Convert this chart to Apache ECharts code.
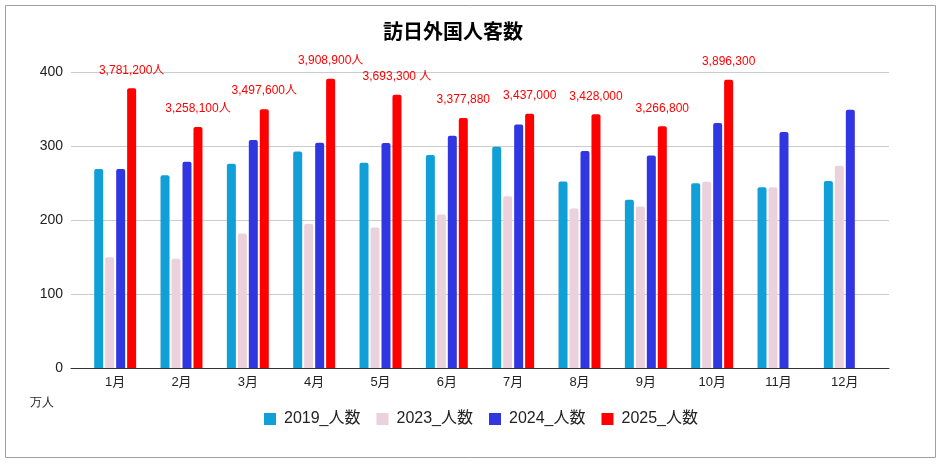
<!DOCTYPE html>
<html><head><meta charset="utf-8">
<script src="https://cdn.jsdelivr.net/npm/echarts@6/dist/echarts.min.js"></script>
<style>html,body{margin:0;padding:0;background:#fff}#c{width:942px;height:464px}</style>
</head><body><div id="c"></div>
<script>
const categories = ['1月','2月','3月','4月','5月','6月','7月','8月','9月','10月','11月','12月'];
const v2019 = [268.9,260.4,276.1,292.7,277.3,288.0,299.1,252.0,227.3,249.7,244.1,252.7];
const v2023 = [149.7,147.5,181.8,194.9,189.9,207.3,232.0,215.6,218.4,251.7,244.1,273.4];
const v2024 = [268.8,278.8,308.2,304.3,304.0,314.0,329.2,293.3,287.2,331.2,318.8,348.9];
const v2025 = [378.1,325.8,349.8,390.9,369.3,337.8,343.7,342.8,326.7,389.6,null,null];
const labels2025 = ['3,781,200人','3,258,100人','3,497,600人','3,908,900人','3,693,300 人','3,377,880','3,437,000','3,428,000','3,266,800','3,896,300','',''];
const yTicks = [0,100,200,300,400];
const seriesNames = ['2019_人数','2023_人数','2024_人数','2025_人数'];
const colors = ['#109fd7','#ead1dc','#3137e0','#ff0000'];

const chart = echarts.init(document.getElementById('c'));
const font = '"Liberation Sans", Arial, "Noto Sans CJK JP", sans-serif';
const vals = [v2019, v2023, v2024, v2025];
const series = vals.map((d, i) => ({
  name: seriesNames[i], type: 'bar', xAxisIndex: 1, yAxisIndex: 1,
  data: d, barWidth: 9, barGap: '22%',
  itemStyle: {color: colors[i], borderRadius: [2,2,0,0]},
  label: i === 3 ? {
    show: true, position: 'top', distance: 12, color: '#ff0000', fontSize: 12, fontFamily: font,
    formatter: p => labels2025[p.dataIndex]
  } : {show: false}
}));
chart.setOption({
  animation: false,
  textStyle: {fontFamily: font},
  title: {text: '訪日外国人客数', left: 378, top: 18, textStyle: {fontSize: 20, fontWeight: 'bold', color: '#000', fontFamily: font}},
  legend: {data: seriesNames, top: 406, left: 259, itemWidth: 12, itemHeight: 12, itemGap: 16, icon: 'rect',
    textStyle: {fontSize: 16, color: '#222', fontFamily: font, padding: [0,0,0,3]}},
  grid: [
    {left: 71, right: 53, top: 72, bottom: 96},
    {left: 82, right: 64, top: 72, bottom: 96}
  ],
  xAxis: [
    {gridIndex: 0, type: 'value', min: 0, max: 1, axisLabel: {show: false}, axisTick: {show: false}, splitLine: {show: false},
      axisLine: {show: true, onZero: false, lineStyle: {color: '#333', width: 1}}},
    {gridIndex: 1, type: 'category', data: categories, axisLine: {show: false}, axisTick: {show: false},
      axisLabel: {fontSize: 13, color: '#222', margin: 8, fontFamily: font}}
  ],
  yAxis: [
    {gridIndex: 0, type: 'value', min: 0, max: 400, interval: 100, axisLine: {show: false}, axisTick: {show: false},
      axisLabel: {fontSize: 14, color: '#222', margin: 8, fontFamily: font, formatter: v => yTicks.includes(v) ? String(v) : ''},
      splitLine: {lineStyle: {color: '#cccccc'}}},
    {gridIndex: 1, type: 'value', min: 0, max: 400, interval: 100, show: false}
  ],
  graphic: [
    {type: 'rect', shape: {x: 5.5, y: 5.5, width: 930, height: 452}, style: {fill: 'none', stroke: '#a0a0a0', lineWidth: 1}, z: -1},
    {type: 'text', left: 30, top: 397, style: {text: '万人', fontSize: 12, fill: '#222', font: '12px ' + font}}
  ],
  series: series
});
</script></body></html>
